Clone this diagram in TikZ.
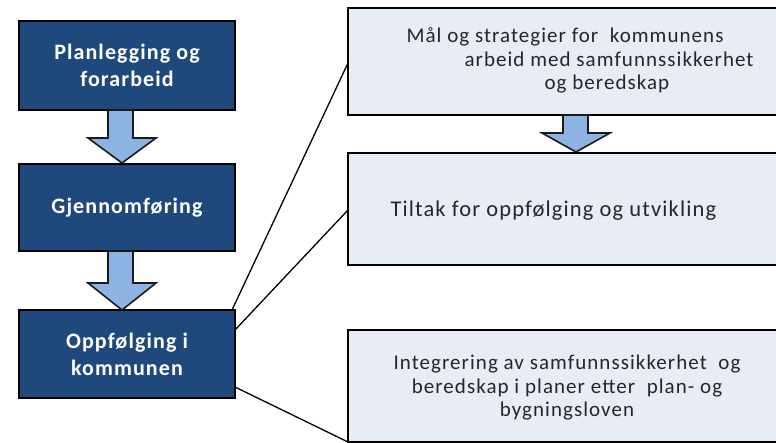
\documentclass[tikz,border=0pt]{standalone}
\usepackage{fontspec}
\setmainfont{Carlito}
\newfontfamily\spacedfont[LetterSpace=5]{Carlito}
\definecolor{darkbox}{HTML}{1F497D}
\definecolor{lightbox}{HTML}{E8EDF5}
\definecolor{arrowfill}{HTML}{8DB3E2}
\definecolor{arrowline}{HTML}{1A1A1A}
\begin{document}
\begin{tikzpicture}[x=1pt,y=-1pt,
  leftbox/.style={draw=black,line width=2.6pt,fill=darkbox},
  rightbox/.style={draw=black,line width=2.6pt,fill=lightbox},
  lefttext/.style={text=white,font=\spacedfont\bfseries\fontsize{22}{27}\selectfont,align=center},
  righttext/.style={text=black!85,font=\spacedfont\fontsize{21}{23.5}\selectfont},
  blockarrow/.style={draw=arrowline,line width=1.6pt,fill=arrowfill,line join=miter},
  connector/.style={draw=black,line width=1.3pt}]
\useasboundingbox (0,0) rectangle (776,443);
\clip (0,0) rectangle (776,443);
\fill[white] (0,0) rectangle (776,443);
% left column
\path[leftbox] (19,21) rectangle (235,110);
\path[leftbox] (19,164) rectangle (235,251);
\path[leftbox] (19,310) rectangle (235,398);
\coordinate (b1) at (127,65.5);
\coordinate (b2) at (127,207.5);
\coordinate (b3) at (127,354);
\node[lefttext] (t1) at (b1) {Planlegging og\\forarbeid};
\node[lefttext] (t2) at (b2) {Gjennomføring};
\node[lefttext] (t3) at (b3) {Oppfølging i\\kommunen};
% block arrows left
\path[blockarrow] (108,110) -- (133,110) -- (133,138) -- (156,138) -- (122,163) -- (88,138) -- (108,138) -- cycle;
\path[blockarrow] (108,251) -- (133,251) -- (133,283) -- (156,283) -- (122,310) -- (88,283) -- (108,283) -- cycle;
% right column
\path[rightbox] (348,8) rectangle (800,115);
\path[rightbox] (348,153) rectangle (800,265);
\path[rightbox] (348,330) rectangle (800,442);
\path[blockarrow] (563,115) -- (588,115) -- (588,133) -- (610,133) -- (576,152) -- (542,133) -- (563,133) -- cycle;
\node[righttext,anchor=west,align=left] (r1) at (403,60.5) {Mål og strategier for\ \ kommunens\\\hspace*{58pt}arbeid med samfunnssikkerhet\\\hspace*{138pt}og beredskap};
\node[righttext,anchor=west] (r2) at (387,211) {\fontsize{22.5}{26}\selectfont Tiltak for oppfølging og utvikling};
\node[righttext,align=center] (r3) at (567,388) {Integrering av samfunnssikkerhet\ \ og\\beredskap i planer\ etter\ \ plan- og\\bygningsloven};
% connectors
\coordinate (c1a) at (232,310);
\coordinate (c1b) at (348,63);
\coordinate (c2a) at (235,330);
\coordinate (c2b) at (348,210);
\coordinate (c3a) at (235,387);
\coordinate (c3b) at (348,442);
\draw[connector] (c1a) -- (c1b);
\draw[connector] (c2a) -- (c2b);
\draw[connector] (c3a) -- (c3b);
\end{tikzpicture}
\end{document}
